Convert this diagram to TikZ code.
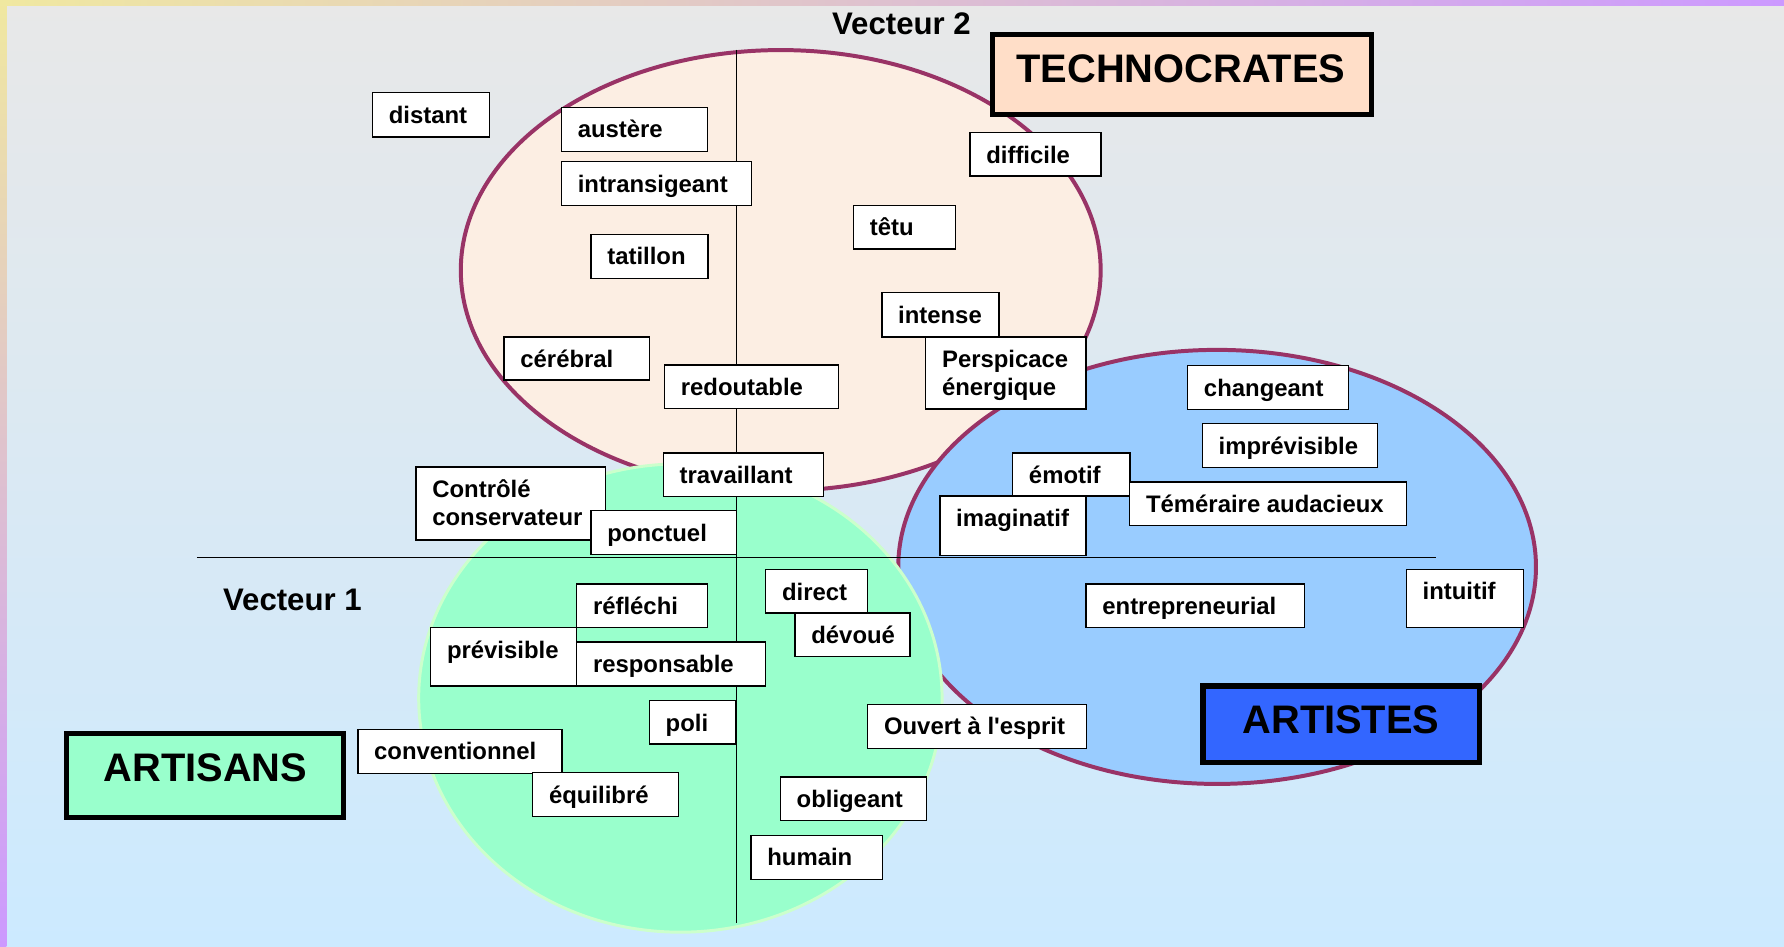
\documentclass[tikz,border=0pt]{standalone}
\usepackage{fontspec}
\setmainfont{Liberation Sans}[Ligatures=TeXOff]
\usetikzlibrary{calc}
\definecolor{maroon}{HTML}{993366}
\definecolor{peach}{HTML}{FCEEE3}
\definecolor{techfill}{HTML}{FFDEC8}
\definecolor{mint}{HTML}{99FFCC}
\definecolor{mintedge}{HTML}{CCFFCC}
\definecolor{sky}{HTML}{99CCFF}
\definecolor{royal}{HTML}{3366FF}
\definecolor{bgtop}{HTML}{E8E8E8}
\definecolor{bgbot}{HTML}{CCEAFF}
\definecolor{fryellow}{HTML}{F0E8A0}
\definecolor{frpurple}{HTML}{CC99FF}

\newcommand{\wbx}[6]{%
  \node[wbox, minimum width={(#4-#2)*0.5pt}, minimum height={(#5-#3)*0.5pt}] (#1) at (#2,#3) {};
  \node[wtext] (#1-t) at ($(#1.north west)+(14,26.8)$) {#6};
}
\newcommand{\cbx}[8]{%
  \node[catbox, fill=#6, minimum width={(#4-#2)*0.5pt}, minimum height={(#5-#3)*0.5pt}] (#1) at (#2,#3) {};
  \node[cattext] (#1-t) at (#7) {#8};
}
\newcommand{\twolines}[2]{\vtop{\baselineskip=12.4pt\hbox{#1}\hbox{#2}}}

\begin{document}
\begin{tikzpicture}[x=0.5pt,y=-0.5pt,
  wbox/.style={draw=black, fill=white, line width=0.65pt, inner sep=0pt, outer sep=0pt, anchor=north west},
  wtext/.style={anchor=base west, inner sep=0pt, font=\fontsize{10.5}{12.4}\selectfont\bfseries},
  catbox/.style={draw=black, line width=2.25pt, inner sep=0pt, outer sep=0pt, anchor=north west},
  cattext/.style={font=\fontsize{17.5}{20}\selectfont\bfseries, inner sep=0pt, anchor=base},
  vlabel/.style={font=\fontsize{13.7}{16}\selectfont\bfseries, inner sep=0pt, anchor=base west},
  axisline/.style={draw=black, line width=0.6pt}
]
\useasboundingbox (0,0) rectangle (1568,832.3);
% background
\fill[top color=bgtop, bottom color=bgbot] (0,0) rectangle (1568,832.3);
\shade[left color=fryellow, right color=frpurple] (0,0) rectangle (1568,4.6);
\shade[top color=fryellow, bottom color=frpurple] (0,0) rectangle (5.6,832.3);

% ellipses
\draw[line width=1.75pt, draw=maroon, fill=peach] (686.2,237.6) ellipse [x radius=140.6pt, y radius=96.8pt];
\draw[line width=1.75pt, draw=maroon, fill=sky] (1069.75,498.25) ellipse [x radius=140.125pt, y radius=95.375pt];
\draw[line width=1.3pt, draw=mintedge, fill=mint] (598,613.5) ellipse [x radius=115pt, y radius=102.9pt];

% axes
\coordinate (hL) at (173,489.8);
\coordinate (hR) at (1262,489.8);
\coordinate (vT) at (647.5,43.5);
\coordinate (vB) at (647.5,811.5);
\draw[axisline] (hL) -- (hR);
\draw[axisline] (vT) -- (vB);

% word boxes
\wbx{distant}{327.3}{81.5}{430.2}{120.4}{distant}
\wbx{austere}{493.4}{94.3}{622}{133}{austère}
\wbx{intrans}{493.4}{142.1}{660.5}{180.5}{intransigeant}
\wbx{tatillon}{519.4}{206}{622.4}{244.6}{tatillon}
\wbx{cerebral}{443}{296}{571}{334}{cérébral}
\wbx{redoutable}{584}{321}{737}{359}{redoutable}
\wbx{travaillant}{583}{398}{724}{436.5}{travaillant}
\wbx{controle}{365.6}{410.6}{532.4}{474.6}{\twolines{Contrôlé}{conservateur}}
\wbx{ponctuel}{519.4}{448.8}{647.1}{487.5}{ponctuel}
\wbx{difficile}{852.5}{116.6}{967.7}{154.7}{difficile}
\wbx{tetu}{750.2}{180.5}{839.9}{218.8}{têtu}
\wbx{intense}{775}{257.3}{878}{296}{intense}
\wbx{perspicace}{813.6}{296}{954.5}{359.5}{\twolines{Perspicace}{énergique}}
\wbx{changeant}{1043.8}{321.4}{1185.3}{359.7}{changeant}
\wbx{imprevisible}{1056.7}{372.4}{1210.8}{410.7}{imprévisible}
\wbx{emotif}{890}{398}{993}{436}{émotif}
\wbx{temeraire}{992.9}{423.6}{1236.3}{462}{Téméraire audacieux}
\wbx{imaginatif}{826}{436}{954.5}{488}{imaginatif}
\wbx{direct}{673}{500.7}{762.6}{538.8}{direct}
\wbx{devoue}{698.7}{538.8}{800}{577.2}{dévoué}
\wbx{reflechi}{506.8}{513.3}{622}{551.7}{réfléchi}
\wbx{previsible}{378.5}{551.7}{506.8}{603}{prévisible}
\wbx{responsable}{506.8}{564.2}{673}{603}{responsable}
\wbx{poli}{570.7}{615.8}{647}{654}{poli}
\wbx{conventionnel}{314.5}{641}{494.1}{679.6}{conventionnel}
\wbx{equilibre}{468.2}{679}{596.2}{717.8}{équilibré}
\wbx{ouvert}{762.6}{619}{954.8}{657.7}{Ouvert à l'esprit}
\wbx{obligeant}{685.8}{683}{814.1}{721.3}{obligeant}
\wbx{humain}{660}{734.2}{775.8}{772.8}{humain}
\wbx{entrepreneurial}{954.5}{513.3}{1146.7}{551.3}{entrepreneurial}
\wbx{intuitif}{1236}{500.4}{1338.8}{551.3}{intuitif}

% category boxes
\cbx{techno}{872.6}{30.6}{1205.4}{100.4}{techfill}{1038,72.7}{TECHNOCRATES}
\cbx{artisans}{58.5}{644.5}{302.2}{718.5}{mint}{180.6,687}{ARTISANS}
\cbx{artistes}{1057.3}{602.9}{1300.5}{670.1}{royal}{1178.6,645.1}{ARTISTES}

% axis labels
\node[vlabel] (v2) at (731,30.2) {Vecteur 2};
\node[vlabel] (v1) at (195.7,537) {Vecteur 1};
\end{tikzpicture}
\end{document}
